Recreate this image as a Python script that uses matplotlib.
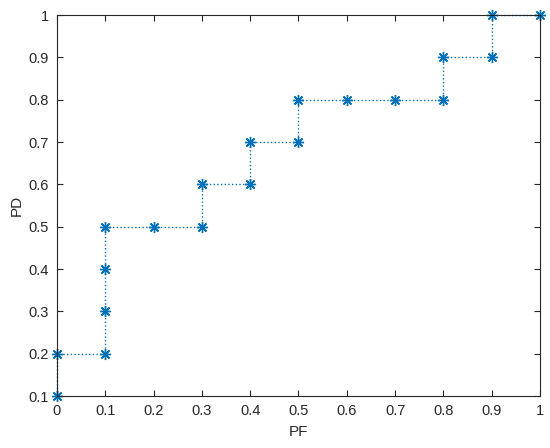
import matplotlib
matplotlib.use('Agg')
import matplotlib.pyplot as plt

# PF / PD points of the step curve
pf = [0, 0, 0.1, 0.1, 0.1, 0.1, 0.2, 0.3, 0.3, 0.4, 0.4, 0.5, 0.5, 0.6, 0.7, 0.8, 0.8, 0.9, 0.9, 1.0]
pd = [0.1, 0.2, 0.2, 0.3, 0.4, 0.5, 0.5, 0.5, 0.6, 0.6, 0.7, 0.7, 0.8, 0.8, 0.8, 0.8, 0.9, 0.9, 1.0, 1.0]
xticks = [0, 0.1, 0.2, 0.3, 0.4, 0.5, 0.6, 0.7, 0.8, 0.9, 1]
yticks = [0.1, 0.2, 0.3, 0.4, 0.5, 0.6, 0.7, 0.8, 0.9, 1]

plt.rcParams['font.family'] = ['Liberation Sans', 'DejaVu Sans']

fig = plt.figure(figsize=(5.5, 4.48), dpi=100)
ax = fig.add_axes([0.1036, 0.116, 0.8782, 0.8505])

# matlab-like asterisk marker (8 arms)
ax.plot(pf, pd, linestyle=':', color='#0072BD', linewidth=1.0,
        marker=(8, 2, 0), markersize=8, markeredgewidth=1.0, clip_on=False)

ax.set_xlim(0, 1)
ax.set_ylim(0.1, 1)
ax.set_xticks(xticks)
ax.set_yticks(yticks)
ax.set_xticklabels([f'{v:g}' for v in xticks])
ax.set_yticklabels([f'{v:g}' for v in yticks])

ax.tick_params(direction='in', top=True, right=True, length=4, width=0.8,
               colors='#262626', labelsize=10.5, labelcolor='#262626', pad=6)
for s in ax.spines.values():
    s.set_color('#262626')
    s.set_linewidth(0.8)

ax.set_xlabel('PF', fontsize=11, color='#262626', labelpad=5)
ax.set_ylabel('PD', fontsize=11, color='#262626', labelpad=3)

fig.savefig('out.png', dpi=100)
